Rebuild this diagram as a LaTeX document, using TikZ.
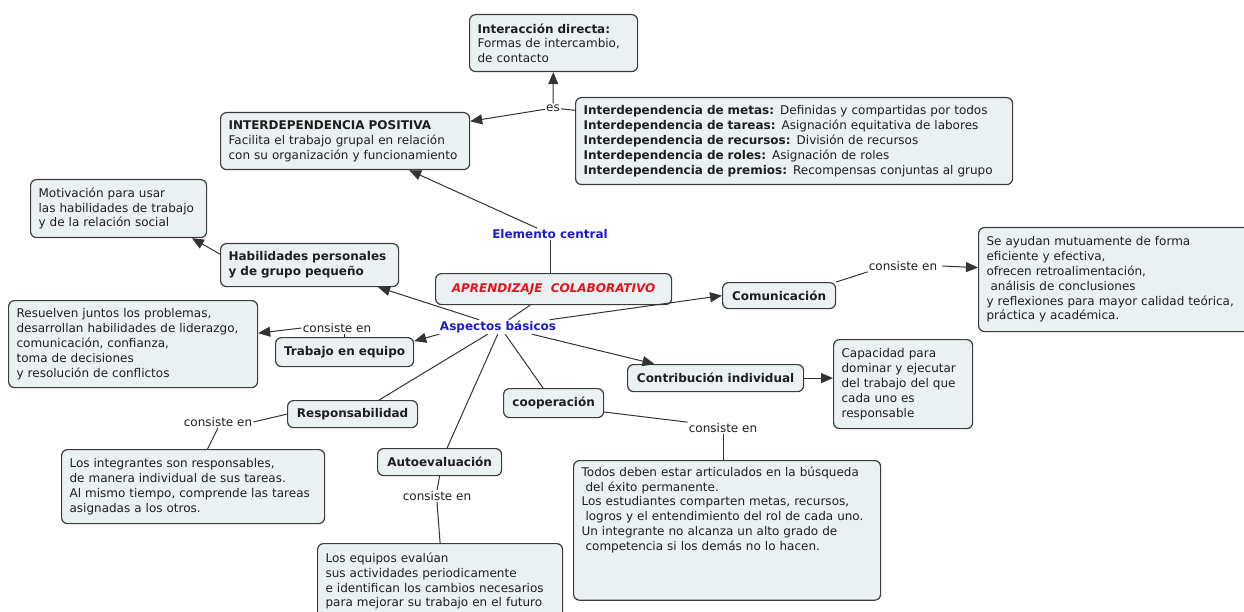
\documentclass[tikz,border=0pt]{standalone}
\usepackage{fontspec}
\setmainfont{DejaVu Sans}
\usetikzlibrary{arrows.meta}
\definecolor{boxf}{HTML}{EBF1F3}
\definecolor{boxd}{HTML}{3C3C3C}
\definecolor{txt}{HTML}{1E1E1E}
\definecolor{lnk}{HTML}{333333}
\definecolor{blu}{HTML}{1C1CC8}
\definecolor{rd}{HTML}{E5141B}
\newcommand{\fs}{\fontsize{12pt}{14.8pt}\selectfont}
\begin{document}
\begin{tikzpicture}[x=1pt,y=-1pt,
  box/.style={draw=boxd, fill=boxf, rounded corners=6pt, line width=1.2pt, inner xsep=8pt, inner ysep=3pt, align=left, anchor=north west, font=\fs, text=txt},
  sbox/.style={draw=boxd, fill=boxf, rounded corners=6pt, line width=1.2pt, inner sep=2pt, align=center, anchor=north west, font=\fs\bfseries, text=txt},
  lbl/.style={font=\fs, text=txt, inner sep=1pt},
  blbl/.style={font=\fs\bfseries, text=blu, inner sep=1pt},
  conn/.style={draw=lnk, line width=1pt},
  arr/.style={conn, -{Triangle[length=12pt,width=10pt]}},
]
\useasboundingbox[fill=white] (0,0) rectangle (1244,612);

% boxes
\node[box, text width=152pt, minimum height=57pt] (inter) at (469,14) {\textbf{Interacción directa:}\\Formas de intercambio,\\de contacto};
\node[box, text width=233pt, minimum height=57pt] (interpos) at (220,112) {\textbf{INTERDEPENDENCIA POSITIVA}\\Facilita el trabajo grupal en relación\\con su organización y funcionamiento};
\node[box, text width=421pt, minimum height=87pt] (idlist) at (575,97) {\textbf{Interdependencia de metas:} Definidas y compartidas por todos\\\textbf{Interdependencia de tareas:} Asignación equitativa de labores\\\textbf{Interdependencia de recursos:} División de recursos\\\textbf{Interdependencia de roles:} Asignación de roles\\\textbf{Interdependencia de premios:} Recompensas conjuntas al grupo};
\node[box, text width=160pt, minimum height=58pt] (motiv) at (30,179) {Motivación para usar\\las habilidades de trabajo\\y de la relación social};
\node[box, text width=162pt, minimum height=43pt, font=\fs\bfseries] (habil) at (220,243) {Habilidades personales\\y de grupo pequeño};
\node[sbox, minimum width=236pt, minimum height=31pt, font=\fs\bfseries\itshape, text=rd] (aprend) at (435,273) {APRENDIZAJE\ \ COLABORATIVO};
\node[sbox, minimum width=113pt, minimum height=26pt] (comun) at (722,282) {Comunicación};
\node[box, text width=256pt, minimum height=104pt] (seayudan) at (978,227) {Se ayudan mutuamente de forma\\eficiente y efectiva,\\ofrecen retroalimentación,\\\hspace{0.33em}análisis de conclusiones\\y reflexiones para mayor calidad teórica,\\práctica y académica.};
\node[box, text width=233pt, minimum height=87pt] (resuelven) at (8,300) {Resuelven juntos los problemas,\\desarrollan habilidades de liderazgo,\\comunicación, confianza,\\toma de decisiones\\y resolución de conflictos};
\node[sbox, minimum width=138pt, minimum height=29pt] (trabajo) at (275,337) {Trabajo en equipo};
\node[sbox, minimum width=176pt, minimum height=27pt] (contrib) at (627,364) {Contribución individual};
\node[box, text width=123pt, minimum height=89pt] (capac) at (833,339) {Capacidad para\\dominar y ejecutar\\del trabajo del que\\cada uno es\\responsable};
\node[sbox, minimum width=130pt, minimum height=27pt] (respons) at (287,400) {Responsabilidad};
\node[box, text width=247pt, minimum height=74pt] (integr) at (61,449) {Los integrantes son responsables,\\de manera individual de sus tareas.\\Al mismo tiempo, comprende las tareas\\asignadas a los otros.};
\node[sbox, minimum width=124pt, minimum height=27pt] (autoev) at (377,448) {Autoevaluación};
\node[box, text width=229pt, minimum height=75pt, inner ysep=6pt] (equipos) at (317,543) {Los equipos evalúan\\sus actividades periodicamente\\e identifican los cambios necesarios\\para mejorar su trabajo en el futuro};
\node[sbox, minimum width=100pt, minimum height=29pt] (coop) at (503,388) {cooperación};
\node[box, text width=291pt, minimum height=133pt, inner ysep=6pt] (todos) at (573,460) {Todos deben estar articulados en la búsqueda\\\hspace{0.33em}del éxito permanente.\\Los estudiantes comparten metas, recursos,\\\hspace{0.33em}logros y el entendimiento del rol de cada uno.\\Un integrante no alcanza un alto grado de\\\hspace{0.33em}competencia si los demás no lo hacen.\rule[-44pt]{0pt}{44pt}};

% labels
\node[lbl] (es) at (553,108) {es};
\node[blbl] (elem) at (550,234) {Elemento central};
\node[blbl] (aspectos) at (498,327) {Aspectos básicos};
\node[lbl] (cons1) at (903,266) {consiste en};
\node[lbl] (cons2) at (337,328) {consiste en};
\node[lbl] (cons3) at (218,422) {consiste en};
\node[lbl] (cons4) at (437,496) {consiste en};
\node[lbl] (cons5) at (723,428) {consiste en};

% connectors
\draw[arr] (es) -- (inter);
\draw[arr] (es) -- (interpos.9);
\draw[conn] (idlist.172) -- (es);
\draw[arr] (elem) -- (interpos);
\draw[conn] (elem.south) -- (elem.south |- aprend.north);
\draw[conn] (aspectos.34) -- (aprend);
\draw[arr] (aspectos.159) -- (habil);
\draw[arr] (habil.173) -- (motiv.338);
\draw[arr] (aspectos.south west) -- (trabajo.9);
\draw[conn] (aspectos.215) -- (respons.28);
\draw[conn] (aspectos.268) -- (autoev.62);
\draw[conn] (aspectos.315) -- (coop.125);
\draw[arr] (aspectos.348) -- (contrib.167);
\draw[arr] (aspectos.8) -- (comun.west);
\draw[conn] (comun.north east) -- (cons1.south west);
\draw[arr] ([xshift=4pt]cons1.east) -- (seayudan.175);
\draw[arr] (contrib.east) -- (contrib.east -| capac.west);
\draw[conn] (trabajo.north) -- (trabajo.north |- cons2.south);
\draw[arr] (cons2.west) -- (resuelven.5);
\draw[conn] (respons.west) -- (cons3.east);
\draw[conn] (cons3.south) -- (integr.69);
\draw[conn] (autoev.south) -- (cons4.north);
\draw[conn] (cons4.south) -- (equipos.north);
\draw[conn] (coop.350) -- (cons5.north west);
\draw[conn] (cons5.south) -- (cons5.south |- todos.north);
\end{tikzpicture}
\end{document}
